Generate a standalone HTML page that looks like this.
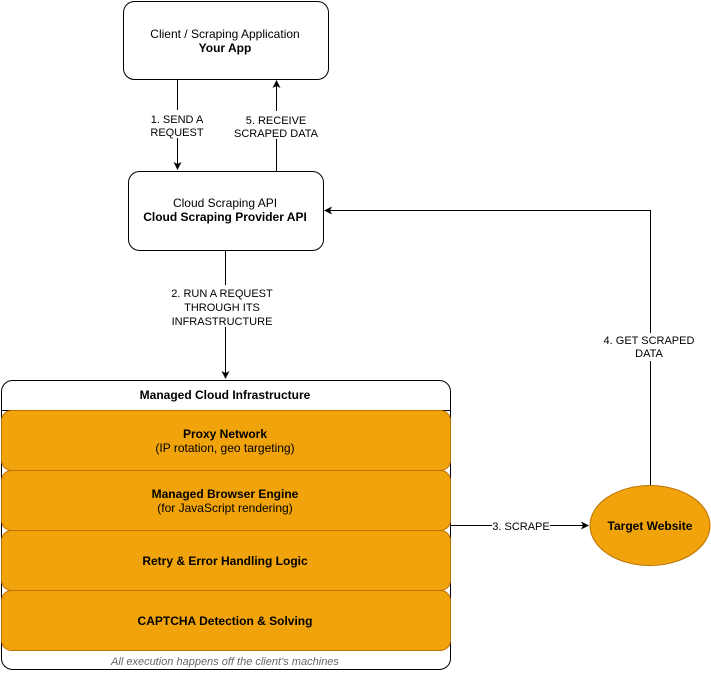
<!DOCTYPE html>
<html><head><style>body{margin:0;background:#fff}</style></head><body>
<svg width="711" height="672" viewBox="0 0 711 672" xmlns="http://www.w3.org/2000/svg" font-family="Liberation Sans, Arial, sans-serif" font-size="12">
<defs><marker id="a" markerWidth="10" markerHeight="10" refX="8" refY="5" orient="auto" markerUnits="userSpaceOnUse"><path d="M1,1 L9,5 L1,9 L3,5 Z" fill="#000"/></marker></defs>
<rect x="123.5" y="1.5" width="205" height="78" rx="11" fill="#fff" stroke="#000"/>
<text x="225" y="38" text-anchor="middle">Client / Scraping Application</text>
<text x="225" y="52" text-anchor="middle" font-weight="bold">Your App</text>
<rect x="128.5" y="171.5" width="195" height="79" rx="11" fill="#fff" stroke="#000"/>
<text x="225" y="207" text-anchor="middle">Cloud Scraping API</text>
<text x="225" y="221" text-anchor="middle" font-weight="bold">Cloud Scraping Provider API</text>
<line x1="177.5" y1="80" x2="177.5" y2="169" stroke="#000" marker-end="url(#a)"/>
<rect x="140" y="110" width="75" height="28" fill="#fff"/>
<text x="177" y="123" text-anchor="middle" font-size="11">1. SEND A</text>
<text x="177" y="136" text-anchor="middle" font-size="11">REQUEST</text>
<line x1="276.5" y1="171" x2="276.5" y2="81" stroke="#000" marker-end="url(#a)"/>
<rect x="230" y="111" width="95" height="28" fill="#fff"/>
<text x="276" y="124" text-anchor="middle" font-size="11">5. RECEIVE</text>
<text x="276" y="137" text-anchor="middle" font-size="11">SCRAPED DATA</text>
<line x1="225.5" y1="251" x2="225.5" y2="378" stroke="#000" marker-end="url(#a)"/>
<rect x="165" y="285" width="120" height="42" fill="#fff"/>
<text x="222" y="297" text-anchor="middle" font-size="11">2. RUN A REQUEST</text>
<text x="222" y="311" text-anchor="middle" font-size="11">THROUGH ITS</text>
<text x="222" y="325" text-anchor="middle" font-size="11">INFRASTRUCTURE</text>
<polyline points="650.5,485 650.5,210.5 325,210.5" fill="none" stroke="#000" marker-end="url(#a)"/>
<rect x="598" y="333" width="105" height="28" fill="#fff"/>
<text x="649" y="344" text-anchor="middle" font-size="11">4. GET SCRAPED</text>
<text x="649" y="357" text-anchor="middle" font-size="11">DATA</text>
<rect x="1.5" y="380.5" width="449" height="289" rx="11" fill="#fff" stroke="#000"/>
<line x1="1.5" y1="410.5" x2="450.5" y2="410.5" stroke="#000"/>
<text x="225" y="399" text-anchor="middle" font-weight="bold">Managed Cloud Infrastructure</text>
<g fill="#f0a30a" stroke="#bd7000">
<rect x="1.5" y="410.5" width="449" height="60" rx="10"/>
<rect x="1.5" y="470.5" width="449" height="60" rx="10"/>
<rect x="1.5" y="530.5" width="449" height="60" rx="10"/>
<rect x="1.5" y="590.5" width="449" height="60" rx="10"/>
</g>
<text x="225" y="438" text-anchor="middle" font-weight="bold">Proxy Network</text>
<text x="225" y="452" text-anchor="middle">(IP rotation, geo targeting)</text>
<text x="225" y="498" text-anchor="middle" font-weight="bold">Managed Browser Engine</text>
<text x="225" y="512" text-anchor="middle">(for JavaScript rendering)</text>
<text x="225" y="565" text-anchor="middle" font-weight="bold">Retry &amp; Error Handling Logic</text>
<text x="225" y="625" text-anchor="middle" font-weight="bold">CAPTCHA Detection &amp; Solving</text>
<text x="225" y="665" text-anchor="middle" font-style="italic" font-size="11" fill="#666">All execution happens off the client’s machines</text>
<line x1="451" y1="525.5" x2="588" y2="525.5" stroke="#000" marker-end="url(#a)"/>
<rect x="492" y="519" width="58" height="13" fill="#fff"/>
<text x="521" y="530" text-anchor="middle" font-size="11">3. SCRAPE</text>
<ellipse cx="650" cy="525.5" rx="60" ry="40" fill="#f0a30a" stroke="#bd7000"/>
<text x="650" y="530" text-anchor="middle" font-weight="bold">Target Website</text>
</svg>
</body></html>
